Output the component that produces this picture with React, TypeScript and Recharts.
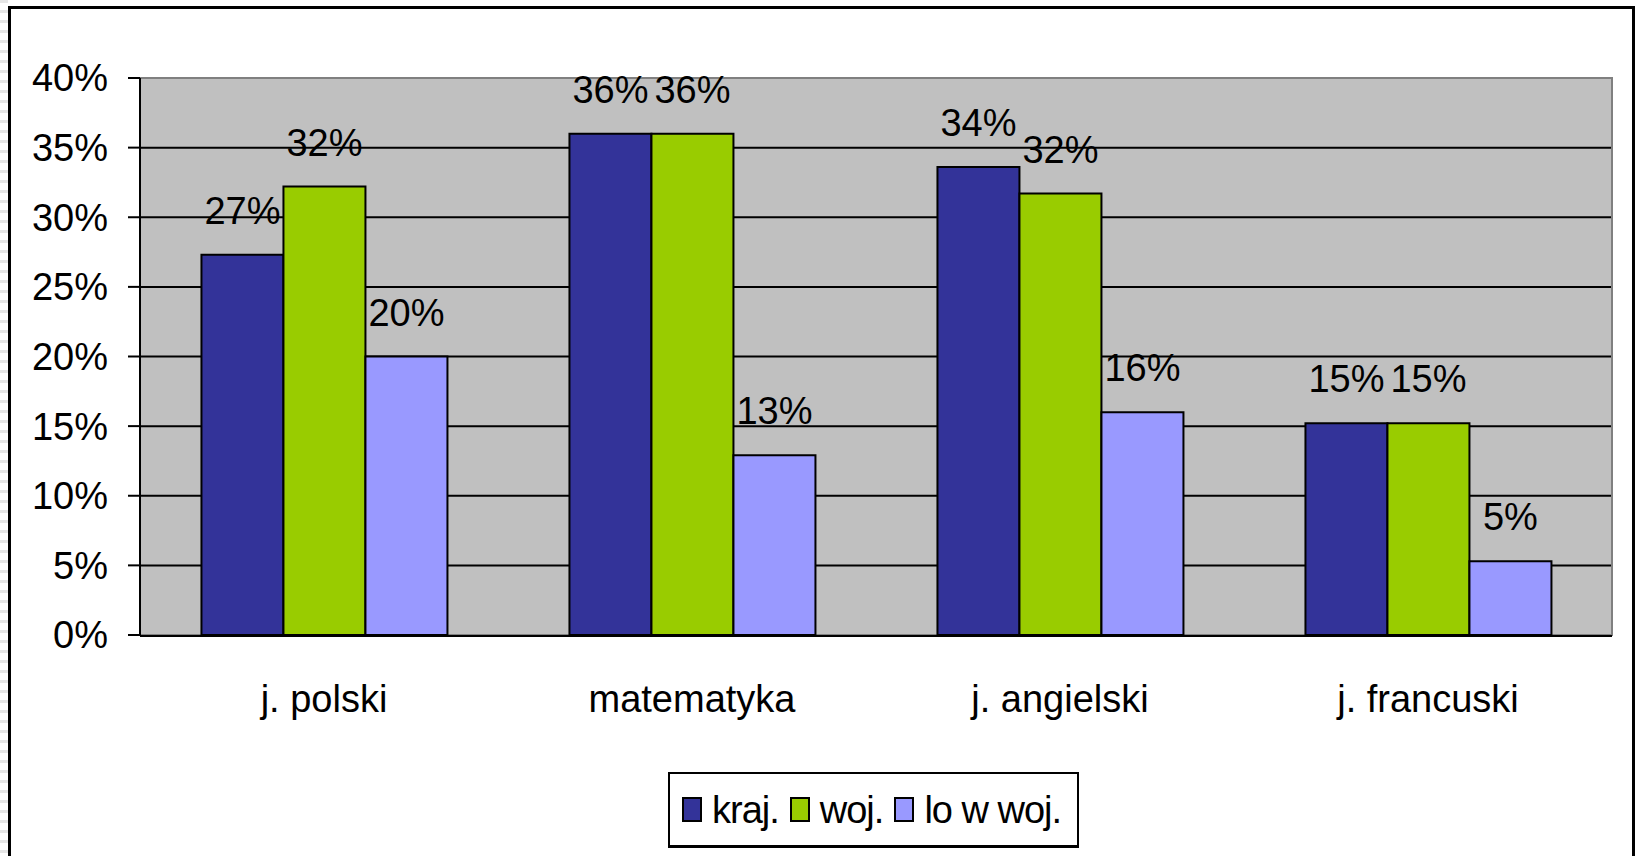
import React from 'react';
import { BarChart, Bar, XAxis, YAxis, CartesianGrid, LabelList, Legend, ReferenceArea } from 'recharts';

const subjects = ['j. polski', 'matematyka', 'j. angielski', 'j. francuski'];
const krajValues = [27.3, 36.0, 33.6, 15.2];
const wojValues = [32.2, 36.0, 31.7, 15.2];
const loValues = [20.0, 12.9, 16.0, 5.3];
const yTicks = [0, 5, 10, 15, 20, 25, 30, 35, 40];
const boundaryTicks = [0, 1, 2, 3, 4];

const seriesNames = { kraj: 'kraj.', woj: 'woj.', lo: 'lo w woj.' };
const colors = { kraj: '#333399', woj: '#99CC00', lo: '#9999FF' };

const data = subjects.map((s, i) => ({
  subject: s,
  kraj: krajValues[i],
  woj: wojValues[i],
  lo: loValues[i],
}));

const FONT = '"Liberation Sans", Arial, sans-serif';
const FS = 38;

const renderLegend = () => {
  const items: Array<keyof typeof colors> = ['kraj', 'woj', 'lo'];
  return (
    <div
      style={{
        boxSizing: 'border-box',
        width: 411,
        height: 76,
        border: '2px solid #000',
        borderBottomWidth: 3,
        background: '#fff',
        display: 'flex',
        alignItems: 'center',
        paddingLeft: 12,
        fontFamily: FONT,
        fontSize: FS,
        color: '#000',
        whiteSpace: 'nowrap',
        letterSpacing: -1,
      }}
    >
      {items.map((k) => (
        <div key={k} style={{ display: 'flex', alignItems: 'center', marginRight: 11 }}>
          <span
            style={{
              display: 'inline-block',
              boxSizing: 'border-box',
              width: 20,
              height: 25,
              background: colors[k],
              border: '2px solid #000',
              marginRight: 10,
            }}
          />
          <span style={{ lineHeight: 1 }}>{seriesNames[k]}</span>
        </div>
      ))}
    </div>
  );
};

export default function App() {
  return (
    <div style={{ position: 'absolute', left: 0, top: 0, width: 1636, height: 856, background: '#fff', overflow: 'hidden' }}>
      <div
        style={{
          position: 'absolute',
          left: 0,
          top: 0,
          width: 8,
          height: 856,
          background: 'repeating-linear-gradient(to bottom, #e6e6e6 0px, #e6e6e6 3px, #ffffff 3px, #ffffff 10px)',
        }}
      />
      <div
        style={{
          position: 'absolute',
          left: 8,
          top: 6,
          width: 1627,
          height: 900,
          boxSizing: 'border-box',
          border: '3px solid #000',
        }}
      />
      <div style={{ position: 'absolute', left: 0, top: 0 }}>
        <BarChart
          width={1636}
          height={856}
          data={data}
          margin={{ top: 78, right: 24, left: 10, bottom: 219 }}
          barCategoryGap="16.7%"
          barGap={0}
        >
          <CartesianGrid vertical={false} stroke="#000" strokeWidth={2} fill="#C0C0C0" fillOpacity={1} />
          <ReferenceArea y1={0} y2={40} fill="none" stroke="#808080" strokeWidth={2} xAxisId="cat" />
          <XAxis
            xAxisId="num"
            type="number"
            domain={[0, 4]}
            allowDataOverflow
            ticks={boundaryTicks}
            tick={false}
            tickSize={15}
            tickLine={{ stroke: '#000', strokeWidth: 2 }}
            axisLine={{ stroke: '#000', strokeWidth: 2 }}
            height={1}
          />
          <XAxis
            xAxisId="cat"
            dataKey="subject"
            height={1}
            tickLine={false}
            axisLine={false}
            tickSize={0}
            tickMargin={50}
            interval={0}
            tick={{ fontSize: FS, fill: '#000', fontFamily: FONT }}
          />
          <YAxis
            width={130}
            domain={[0, 40]}
            ticks={yTicks}
            interval={0}
            tickFormatter={(v: number) => `${v}%`}
            tickSize={12}
            tickMargin={20}
            tickLine={{ stroke: '#000', strokeWidth: 2 }}
            axisLine={{ stroke: '#000', strokeWidth: 2 }}
            tick={{ fontSize: FS, fill: '#000', fontFamily: FONT }}
          />
          <Legend
            layout="horizontal"
            verticalAlign="middle"
            align="center"
            content={renderLegend}
            wrapperStyle={{ left: 668, top: 772, width: 411, height: 76 }}
          />
          {(['kraj', 'woj', 'lo'] as const).map((k) => (
            <Bar
              key={k}
              xAxisId="cat"
              dataKey={k}
              name={seriesNames[k]}
              fill={colors[k]}
              stroke="#000"
              strokeWidth={2}
              isAnimationActive={false}
            >
              <LabelList
                dataKey={k}
                position="top"
                offset={31}
                formatter={(v: number) => `${Math.round(v)}%`}
                style={{ fontSize: FS, fill: '#000', fontFamily: FONT }}
              />
            </Bar>
          ))}
        </BarChart>
      </div>
    </div>
  );
}
